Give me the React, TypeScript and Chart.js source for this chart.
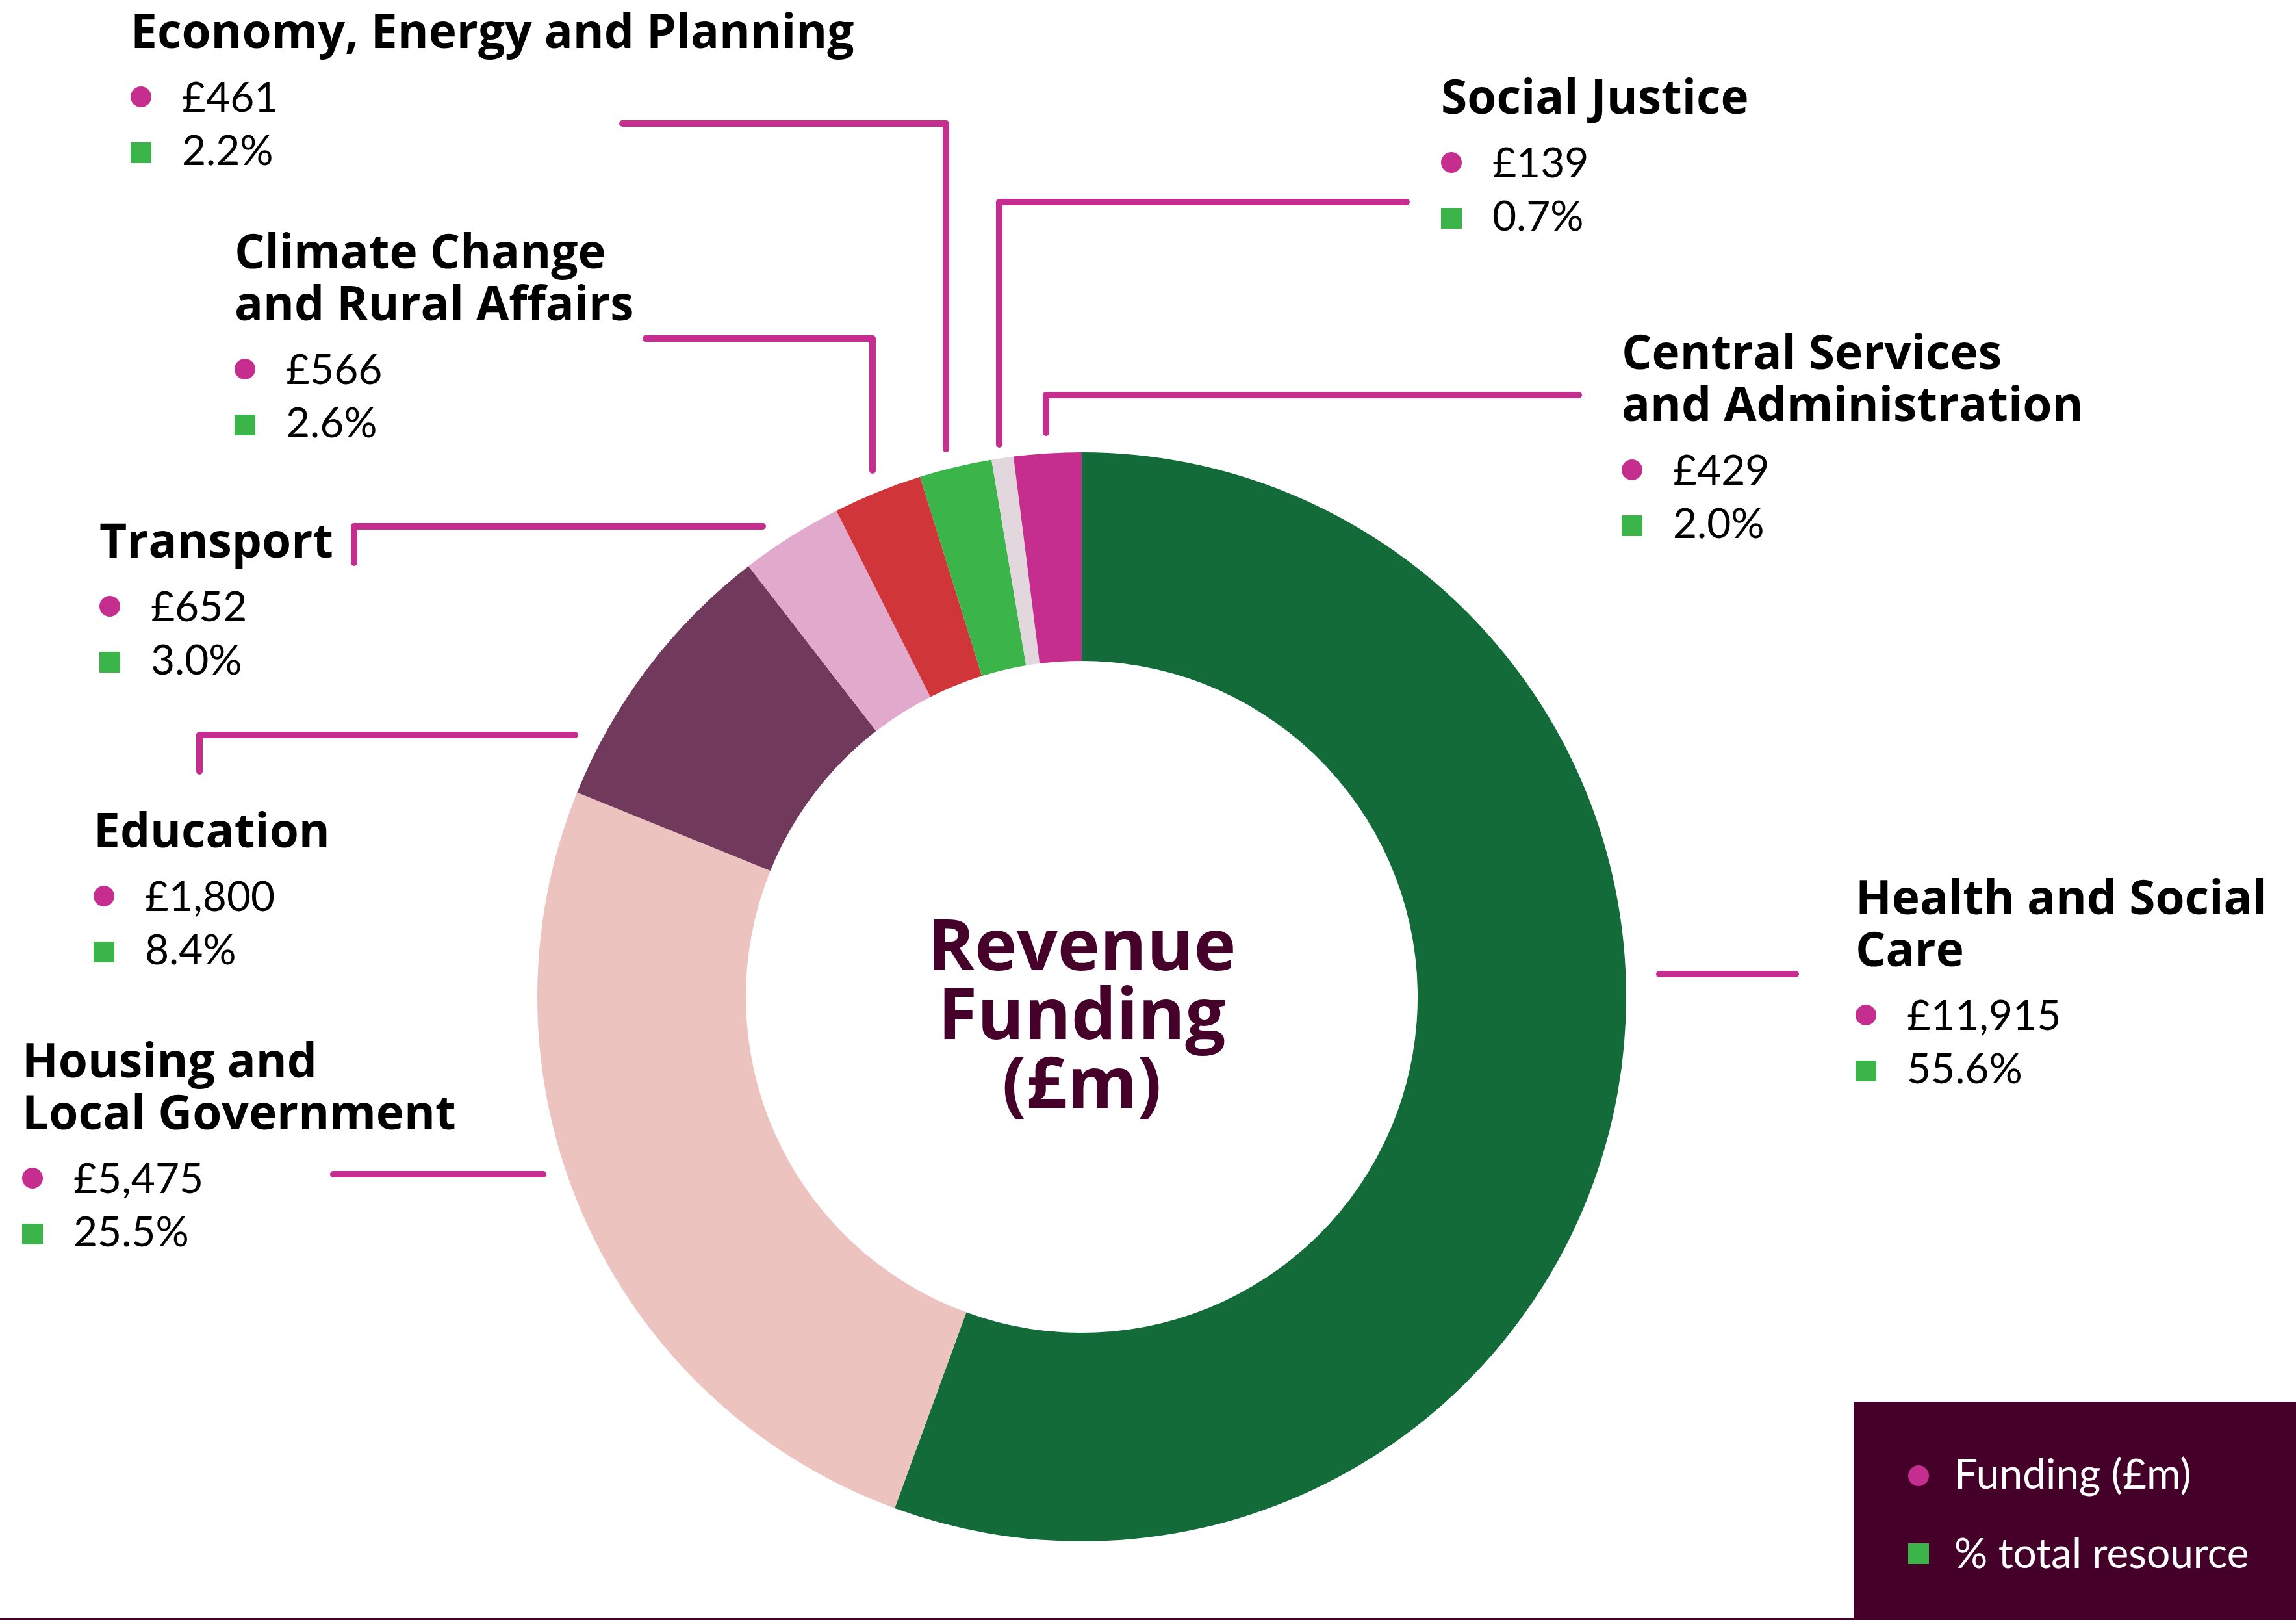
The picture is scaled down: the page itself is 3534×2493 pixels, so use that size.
import React, { useEffect, useRef } from 'react';
import { Chart, registerables } from 'chart.js';

Chart.register(...registerables);

// ---------- DATA ----------
const categories: string[][] = [
  ['Health and Social', 'Care'],
  ['Housing and', 'Local Government'],
  ['Education'],
  ['Transport'],
  ['Climate Change', 'and Rural Affairs'],
  ['Economy, Energy and Planning'],
  ['Social Justice'],
  ['Central Services', 'and Administration'],
];
const fundingValues: number[] = [11915, 5475, 1800, 652, 566, 461, 139, 429];
const percentValues: number[] = [55.6, 25.5, 8.4, 3.0, 2.6, 2.2, 0.7, 2.0];
const legendLabels: string[] = ['Funding (£m)', '% total resource'];
const centerTitle: string[] = ['Revenue', 'Funding', '(£m)'];

// ---------- STYLE ----------
const sliceColors = ['#136B39', '#ECC3BF', '#713A5C', '#E1A9CB', '#D0353A', '#3BB54A', '#E3D7DE', '#C52E8F'];
const MAGENTA = '#C52E8F';
const GREEN = '#3BB54A';
const MAROON = '#45002A';
const W = 3534;
const H = 2493;

// label layout: x, first heading baseline, leader-line path
const labelLayout: { x: number; y: number; leader: number[][] }[] = [
  { x: 2856, y: 1407, leader: [[2554, 1499], [2764, 1499]] },
  { x: 34, y: 1658, leader: [[513, 1807], [836, 1807]] },
  { x: 144, y: 1304, leader: [[885, 1131], [307, 1131], [307, 1187]] },
  { x: 153, y: 858, leader: [[1174, 810], [545, 810], [545, 866]] },
  { x: 361, y: 413, leader: [[994, 521], [1343, 521], [1343, 724]] },
  { x: 201, y: 74, leader: [[958, 190], [1456, 190], [1456, 691]] },
  { x: 2218, y: 175, leader: [[2165, 311], [1538, 311], [1538, 684]] },
  { x: 2496, y: 568, leader: [[2430, 608], [1610, 608], [1610, 666]] },
];

const HEAD_FONT = '700 73px "Open Sans"';
const VALUE_FONT = '400 64px Lato';
const CENTER_FONT = '700 110px "Open Sans"';

const annotationPlugin = {
  id: 'annotations',
  afterDraw(chart: any) {
    const ctx: CanvasRenderingContext2D = chart.ctx;
    ctx.save();
    // leader lines
    ctx.strokeStyle = MAGENTA;
    ctx.lineWidth = 10;
    ctx.lineCap = 'round';
    ctx.lineJoin = 'round';
    labelLayout.forEach((l) => {
      ctx.beginPath();
      l.leader.forEach((p, i) => (i === 0 ? ctx.moveTo(p[0], p[1]) : ctx.lineTo(p[0], p[1])));
      ctx.stroke();
    });
    // labels
    ctx.textAlign = 'left';
    ctx.textBaseline = 'alphabetic';
    categories.forEach((lines, i) => {
      const l = labelLayout[i];
      ctx.fillStyle = '#000000';
      ctx.font = HEAD_FONT;
      lines.forEach((t, j) => ctx.fillText(t, l.x, l.y + j * 80));
      const last = l.y + (lines.length - 1) * 80;
      const vY = last + 98;
      const pY = last + 180;
      ctx.fillStyle = MAGENTA;
      ctx.beginPath();
      ctx.arc(l.x + 16, vY - 23, 16, 0, Math.PI * 2);
      ctx.fill();
      ctx.fillStyle = GREEN;
      ctx.fillRect(l.x, pY - 35, 32, 32);
      ctx.fillStyle = '#000000';
      ctx.font = VALUE_FONT;
      ctx.fillText('£' + fundingValues[i].toLocaleString('en-GB'), l.x + 79, vY);
      ctx.fillText(percentValues[i].toFixed(1) + '%', l.x + 79, pY);
    });
    // centre title
    const arc = chart.getDatasetMeta(0).data[0];
    const cx = arc.x;
    const cy = arc.y;
    ctx.fillStyle = '#46012B';
    ctx.font = CENTER_FONT;
    ctx.textAlign = 'center';
    centerTitle.forEach((t, j) => ctx.fillText(t, cx, cy - 41 + j * 106));
    // legend box
    ctx.fillStyle = MAROON;
    ctx.fillRect(2853, 2157, W - 2853, H - 2157);
    ctx.fillStyle = MAGENTA;
    ctx.beginPath();
    ctx.arc(2953, 2271, 16, 0, Math.PI * 2);
    ctx.fill();
    ctx.fillStyle = GREEN;
    ctx.fillRect(2937, 2375, 32, 32);
    ctx.fillStyle = '#FFFFFF';
    ctx.font = VALUE_FONT;
    ctx.textAlign = 'left';
    ctx.fillText(legendLabels[0], 3008, 2291);
    ctx.fillText(legendLabels[1], 3008, 2413);
    // bottom rule
    ctx.fillStyle = MAROON;
    ctx.fillRect(0, H - 3, W, 3);
    ctx.restore();
  },
};

export default function App() {
  const ref = useRef<HTMLCanvasElement | null>(null);
  useEffect(() => {
    document.body.style.margin = '0';
    document.body.style.overflow = 'hidden';
    if (!ref.current) return;
    const chart = new Chart(ref.current, {
      type: 'doughnut',
      data: {
        labels: categories.map((c) => c.join(' ')),
        datasets: [
          {
            data: fundingValues,
            backgroundColor: sliceColors,
            borderWidth: 0,
            hoverOffset: 0,
          },
        ],
      },
      options: {
        animation: false,
        responsive: false,
        devicePixelRatio: 1,
        cutout: '61.7%',
        layout: { padding: { left: 827, right: 1031, top: 696, bottom: 121 } },
        plugins: {
          legend: { display: false },
          tooltip: { enabled: false },
        },
        events: [],
      },
      plugins: [annotationPlugin],
    });
    return () => chart.destroy();
  }, []);
  return (
    <div style={{ width: W, height: H, background: '#FFFFFF' }}>
      <canvas ref={ref} width={W} height={H} style={{ display: 'block', width: W, height: H }} />
    </div>
  );
}
